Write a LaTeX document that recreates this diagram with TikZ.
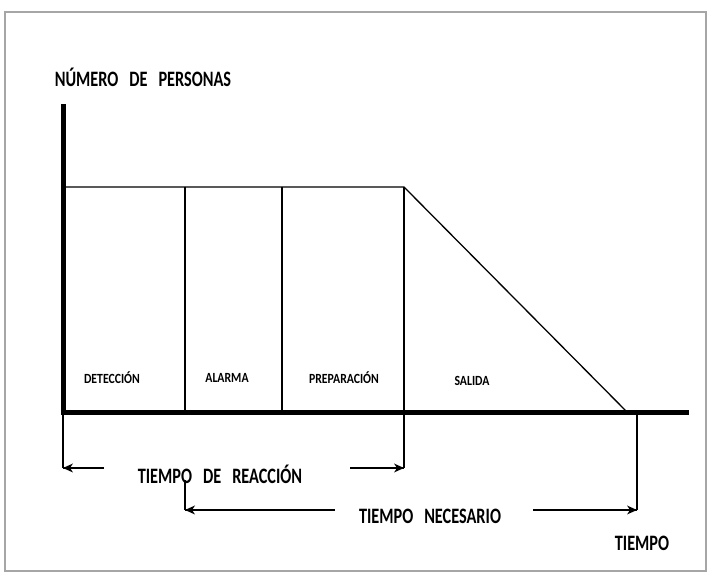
\documentclass[tikz,border=0pt]{standalone}
\usepackage{fontspec}
\setmainfont{Carlito}
\newfontfamily\widefont[FakeStretch=0.74]{Carlito}
\newfontfamily\slimfont[FakeStretch=0.84]{Carlito}
\usetikzlibrary{positioning}

\newcommand{\wgap}{\hspace{0.5em}}

\begin{document}
\begin{tikzpicture}[
    frame/.style={draw=black!35, line width=1.5pt},
    axis/.style={line width=5pt, line join=miter},
    edge/.style={line width=1.3pt},
    headleft/.pic={\fill (0,0) -- (10pt,4.5pt) -- (7pt,0) -- (10pt,-4.5pt) -- cycle;},
    headright/.pic={\fill (0,0) -- (-10pt,4.5pt) -- (-7pt,0) -- (-10pt,-4.5pt) -- cycle;},
    biglabel/.style={inner sep=0pt, font=\widefont\fontsize{22}{24}\selectfont\bfseries},
    phase/.style={inner sep=0pt, font=\slimfont\fontsize{14}{16}\selectfont\bfseries}
]
    \useasboundingbox (0,0) rectangle (710pt,573pt);
\begin{scope}[x=1pt, y=1pt]

    % Frame
    \draw[frame] (5,2) rectangle (706,561);

    % Axes
    \coordinate (O) at (63,160);
    \coordinate (ytop) at (63,469);
    \coordinate (xend) at (689,160);
    \draw[axis] (ytop) -- (O) -- (xend);

    % Plateau and descent
    \coordinate (p0) at (63,386);
    \coordinate (p1) at (185,386);
    \coordinate (p2) at (282,386);
    \coordinate (p3) at (404,386);
    \coordinate (b1) at (185,160);
    \coordinate (b2) at (282,160);
    \coordinate (zero) at (628,160);
    \draw[edge] (p0) -- (p3) -- (zero);
    \draw[edge] (p1) -- (b1);
    \draw[edge] (p2) -- (b2);

    % Reaction time
    \coordinate (r0) at (63,105);
    \coordinate (r1) at (404,105);
    \coordinate (ra) at (104,105);
    \coordinate (rb) at (350,105);
    \draw[edge] (O) -- (r0);
    \draw[edge] (p3) -- (r1);
    \draw[edge] (ra) -- (r0);
    \draw[edge] (rb) -- (r1);
    \pic at (r0) {headleft};
    \pic at (r1) {headright};

    % Required time
    \coordinate (ntop) at (185,93);
    \coordinate (n0) at (185,63);
    \coordinate (ntop2) at (637,160);
    \coordinate (n1) at (637,63);
    \coordinate (na) at (335,63);
    \coordinate (nb) at (533,63);
    \draw[edge] (ntop) -- (n0);
    \draw[edge] (ntop2) -- (n1);
    \draw[edge] (na) -- (n0);
    \draw[edge] (nb) -- (n1);
    \pic at (n0) {headleft};
    \pic at (n1) {headright};

    % Labels
    \node[biglabel] (personas) at (143,496) {NÚMERO\wgap DE\wgap PERSONAS};
    \node[phase] (deteccion) at (112,195) {DETECCIÓN};
    \node[phase] (alarma) at (227,195) {ALARMA};
    \node[phase] (preparacion) at (344,195) {PREPARACIÓN};
    \node[phase] (salida) at (472,192) {SALIDA};
    \node[biglabel] (reaccion) at (220,99) {TIEMPO\wgap DE\wgap REACCIÓN};
    \node[biglabel] (necesario) at (430,57) {TIEMPO\wgap NECESARIO};
    \node[biglabel] (tiempo) at (642,30) {TIEMPO};

\end{scope}
\end{tikzpicture}
\end{document}
